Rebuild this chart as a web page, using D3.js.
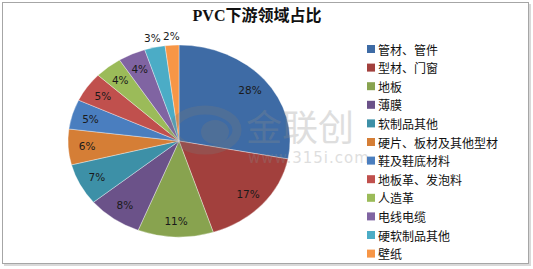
<!DOCTYPE html>
<html>
<head>
<meta charset="utf-8">
<script src="https://cdn.jsdelivr.net/npm/d3@7"></script>
<style>
  body { margin: 0; background: #fff; }
  svg { display: block; }
</style>
</head>
<body>
<svg id="chart" width="533" height="269"></svg>
<script>
// PVC downstream usage share (%)
var categories = ["管材、管件", "型材、门窗", "地板", "薄膜", "软制品其他", "硬片、板材及其他型材",
                  "鞋及鞋底材料", "地板革、发泡料", "人造革", "电线电缆", "硬软制品其他", "壁纸"];
var values = [28, 17, 11, 8, 7, 6, 5, 5, 4, 4, 3, 2];
var colors = ["#3e6ba5", "#a2403d", "#88a34f", "#6b5289", "#3d90a7", "#d57e36",
              "#4a7ebf", "#c0504d", "#9bbb59", "#8064a2", "#4bacc6", "#f79646"];

var svg = d3.select("#chart");

// outer frame with a little shadow
svg.append("rect").attr("x", 4).attr("y", 4).attr("width", 527).attr("height", 262)
    .attr("fill", "#d9d9d9");
svg.append("rect").attr("x", 2.5).attr("y", 2.5).attr("width", 526).attr("height", 261)
    .attr("fill", "#fff").attr("stroke", "#a6a6a6").attr("stroke-width", 1);

svg.append("text")
    .attr("x", 257).attr("y", 21)
    .attr("text-anchor", "middle")
    .attr("font-family", "'Liberation Serif', 'Noto Sans CJK SC', serif")
    .attr("font-weight", "bold")
    .attr("font-size", 16)
    .attr("fill", "#111")
    .text("PVC下游领域占比");

// pie is stretched a bit horizontally, like the original
var cx = 179, cy = 141, ry = 96, rx = 111;
var sx = rx / ry;

var pie = d3.pie().sort(null).value(function (d) { return d; });
var arcs = pie(values);
var arc = d3.arc().innerRadius(0).outerRadius(ry);

var g = svg.append("g")
    .attr("transform", "translate(" + cx + "," + cy + ") scale(" + sx + ",1)");

g.selectAll("path")
    .data(arcs)
    .enter()
    .append("path")
    .attr("d", arc)
    .attr("fill", function (d, i) { return colors[i]; })
    .attr("stroke", "#fff")
    .attr("stroke-opacity", 0.6)
    .attr("stroke-width", 0.6)
    .attr("vector-effect", "non-scaling-stroke");

// watermark
var wm = svg.append("g").attr("opacity", 0.28).attr("fill", "#8c8c8c");
wm.append("ellipse").attr("cx", 205).attr("cy", 130).attr("rx", 32).attr("ry", 20)
    .attr("fill", "none").attr("stroke", "#7a7a7a").attr("stroke-width", 9);
wm.append("ellipse").attr("cx", 215).attr("cy", 132).attr("rx", 14).attr("ry", 12)
    .attr("fill", "#7a7a7a");
wm.append("text").attr("x", 246).attr("y", 141)
    .attr("font-family", "'Noto Sans CJK SC', sans-serif")
    .attr("font-size", 36).text("金联创");
wm.append("text").attr("x", 248).attr("y", 163)
    .attr("font-family", "'DejaVu Sans', sans-serif")
    .attr("font-size", 15).attr("letter-spacing", 1).text("www.315i.com");

// percentage labels
svg.selectAll(".pct")
    .data(arcs)
    .enter()
    .append("text")
    .attr("class", "pct")
    .attr("text-anchor", "middle")
    .attr("dominant-baseline", "central")
    .attr("font-family", "'DejaVu Sans', sans-serif")
    .attr("font-size", 10.5)
    .attr("fill", "#1a1a1a")
    .attr("x", function (d) {
        var a = (d.startAngle + d.endAngle) / 2;
        var k = d.data <= 3 ? 1.1 : 0.83;
        return cx + Math.sin(a) * rx * k;
    })
    .attr("y", function (d) {
        var a = (d.startAngle + d.endAngle) / 2;
        var k = d.data <= 3 ? 1.1 : 0.83;
        return cy - Math.cos(a) * ry * k;
    })
    .text(function (d) { return d.data + "%"; });

// legend
var legend = svg.append("g").attr("transform", "translate(367,49)");
var rows = legend.selectAll("g")
    .data(categories)
    .enter()
    .append("g")
    .attr("transform", function (d, i) { return "translate(0," + (i * 18.6) + ")"; });

rows.append("rect")
    .attr("x", 0).attr("y", -4)
    .attr("width", 8).attr("height", 8)
    .attr("fill", function (d, i) { return colors[i]; });

rows.append("text")
    .attr("x", 11).attr("y", 0)
    .attr("dominant-baseline", "central")
    .attr("font-family", "'Noto Sans CJK SC', sans-serif")
    .attr("font-size", 12)
    .attr("fill", "#111")
    .text(function (d) { return d; });
</script>
</body>
</html>
